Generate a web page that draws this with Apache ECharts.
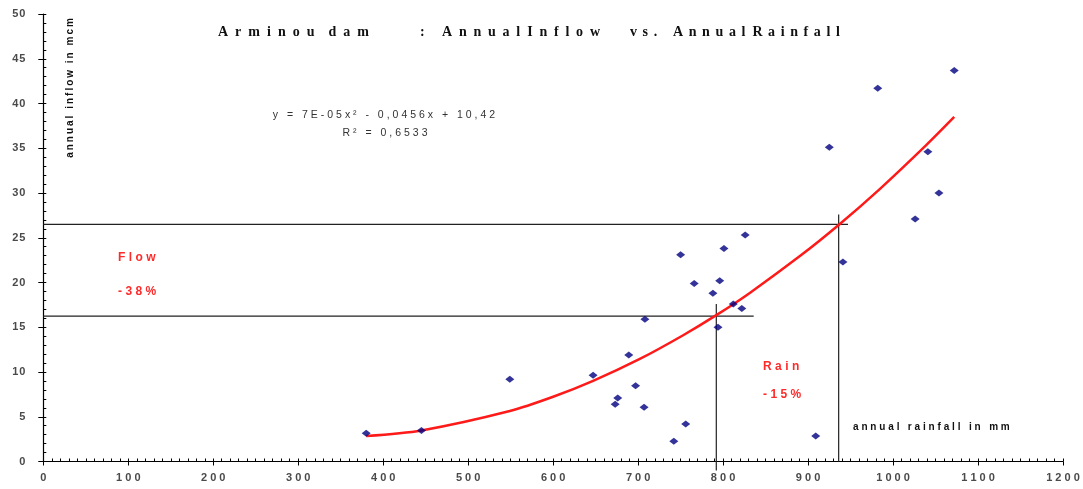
<!DOCTYPE html>
<html><head><meta charset="utf-8">
<script src="https://cdn.jsdelivr.net/npm/echarts/dist/echarts.min.js"></script>
<style>html,body{margin:0;padding:0;background:#fff}#c{width:1083px;height:489px}</style>
</head><body><div id="c"></div>
<script>
// Observed data: annual rainfall (mm) vs annual inflow (mcm)
const rainfall = [380, 445, 549, 647, 689, 697, 676, 673, 707, 708, 742, 756, 750, 766, 801, 796, 788, 826, 812, 822, 794, 909, 925, 941, 982, 1026, 1041, 1054, 1072];
const inflow   = [3.15, 3.45, 9.2, 9.65, 11.9, 8.45, 7.1, 6.4, 6.05, 15.9, 2.25, 4.2, 23.1, 19.9, 23.8, 20.2, 18.8, 25.3, 17.6, 17.1, 15.0, 2.85, 35.1, 22.3, 41.7, 27.1, 34.6, 30.0, 43.7];
// Trend curve
const trendRain = [380, 445, 549, 600, 647, 702, 753, 792, 831, 890, 937, 984, 1039, 1072];
const trendFlow = [2.85, 3.47, 5.64, 7.23, 9.01, 11.46, 14.11, 16.35, 18.81, 22.92, 26.51, 30.41, 35.35, 38.5];
// Reference lines (rain -15%, flow -38%)
const flowHighLine = [[0, 26.5], [947, 26.5]];
const rainHighLine = [[936, 0], [936, 27.6]];
const flowLowLine  = [[0, 16.25], [836, 16.25]];
const rainLowLine  = [[792, -1], [792, 17.6]];
// Axis tick values
const xTicks = [0, 100, 200, 300, 400, 500, 600, 700, 800, 900, 1000, 1100, 1200];
const yTicks = [0, 5, 10, 15, 20, 25, 30, 35, 40, 45, 50];

const sp = (s, g) => s.split('').join(g);
const points = rainfall.map((r, i) => [r, inflow[i]]);
const trend = trendRain.map((r, i) => [r, trendFlow[i]]);
const refStyle = {color: '#222', width: 1.2};
const refSeries = (d) => ({type: 'line', data: d, symbol: 'none', clip: false, silent: true,
  lineStyle: refStyle, xAxisIndex: 0, yAxisIndex: 0, z: 3});

const chart = echarts.init(document.getElementById('c'));
const lab = {color: '#4a4a4a', fontFamily: 'Liberation Sans', fontWeight: 'bold', fontSize: 11};
const W = '\u2009\u200A';
const E = '\u2002';
const T2 = '\u2009\u2009';
const T3 = '\u2009\u2009\u200A';
const tFont = 'bold 14px "Liberation Serif"';
const tText = (x, s) => ({type: 'text', x: x, y: 32, style: {text: s, fill: '#111', font: tFont, textVerticalAlign: 'middle'}});
chart.setOption({
  animation: false,
  grid: {left: 43.3, right: 20, top: 14, bottom: 27.5},
  xAxis: [{
    type: 'value', min: xTicks[0], max: xTicks[xTicks.length - 1], interval: xTicks[1] - xTicks[0],
    axisLine: {lineStyle: {color: '#000', width: 1.2}},
    axisTick: {inside: false, length: 4, lineStyle: {color: '#000'}},
    axisLabel: Object.assign({margin: 11, formatter: v => sp(String(v), ' ')}, lab),
    splitLine: {show: false}
  }, {
    type: 'value', min: xTicks[0], max: xTicks[xTicks.length - 1], interval: 10, position: 'bottom',
    axisLine: {show: false}, axisLabel: {show: false}, splitLine: {show: false},
    axisTick: {inside: true, length: 3, lineStyle: {color: '#000'}}
  }],
  yAxis: [{
    type: 'value', min: yTicks[0], max: yTicks[yTicks.length - 1], interval: yTicks[1] - yTicks[0],
    axisLine: {show: true, lineStyle: {color: '#000', width: 1.2}},
    axisTick: {show: true, inside: false, length: 5, lineStyle: {color: '#000'}},
    axisLabel: Object.assign({margin: 18, formatter: v => sp(String(v), '\u200A')}, lab),
    splitLine: {show: false}
  }, {
    type: 'value', min: yTicks[0], max: yTicks[yTicks.length - 1], interval: 1, position: 'left',
    axisLine: {show: false}, axisLabel: {show: false}, splitLine: {show: false},
    axisTick: {show: true, inside: true, length: 3, lineStyle: {color: '#000'}}
  }],
  series: [
    refSeries(flowHighLine), refSeries(rainHighLine), refSeries(flowLowLine), refSeries(rainLowLine),
    {type: 'line', data: trend, smooth: 0.3, symbol: 'none', lineStyle: {color: '#ff1a1a', width: 2.5}, z: 4},
    {type: 'scatter', data: points, symbol: 'diamond', symbolSize: [9, 7],
      itemStyle: {color: '#000080'}, z: 5}
  ],
  graphic: [
    tText(218, sp('Arminou', E) + E + E + sp('dam', E)),
    tText(420, ':'),
    tText(442, sp('Annual', T3) + E + sp('Inflow', T3)),
    tText(630, sp('vs.', T2)),
    tText(673, sp('Annual', T2) + E + sp('Rainfall', T2)),
    {type: 'text', x: 384, y: 115, style: {text: sp('y = 7E-05x² - 0,0456x + 10,42', W), fill: '#333', font: '10.5px "Liberation Sans"', textAlign: 'center', textVerticalAlign: 'middle'}},
    {type: 'text', x: 385, y: 133, style: {text: sp('R² = 0,6533', W), fill: '#333', font: '10.5px "Liberation Sans"', textAlign: 'center', textVerticalAlign: 'middle'}},
    {type: 'text', x: 70, y: 88, rotation: Math.PI / 2, style: {text: sp('annual inflow in mcm', '\u2009'), fill: '#111', font: 'bold 10px "Liberation Sans"', textAlign: 'center', textVerticalAlign: 'middle'}},
    {type: 'text', x: 118, y: 258, style: {text: sp('Flow', W), fill: '#ff2a2a', font: 'bold 12px "Liberation Sans"', textVerticalAlign: 'middle'}},
    {type: 'text', x: 118, y: 292, style: {text: sp('-38%', W), fill: '#ff2a2a', font: 'bold 12px "Liberation Sans"', textVerticalAlign: 'middle'}},
    {type: 'text', x: 763, y: 367, style: {text: sp('Rain', W), fill: '#ff2a2a', font: 'bold 12px "Liberation Sans"', textVerticalAlign: 'middle'}},
    {type: 'text', x: 763, y: 395, style: {text: sp('-15%', W), fill: '#ff2a2a', font: 'bold 12px "Liberation Sans"', textVerticalAlign: 'middle'}},
    {type: 'text', x: 853, y: 427, style: {text: sp('annual rainfall in mm', W), fill: '#111', font: 'bold 10px "Liberation Sans"', textVerticalAlign: 'middle'}}
  ]
});
</script></body></html>
